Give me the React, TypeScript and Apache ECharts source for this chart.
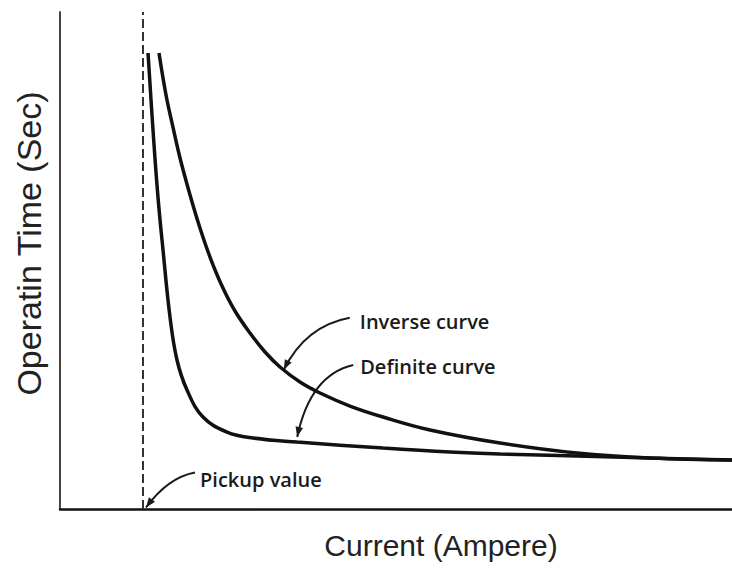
import React, { useEffect, useRef } from "react";
import * as echarts from "echarts";

// Definite-time curve (x: current, y: operating time)
const definiteX = [13.1, 13.84, 14.58, 15.33, 16.37, 17.41, 18.9, 21.28, 24.85, 28.72, 35.27, 48.07, 58.04, 65.48, 76.93, 87.8, 100];
const definiteY = [91.75, 76.26, 62.78, 52.11, 38.63, 29.98, 23.94, 18.51, 15.49, 14.29, 13.48, 12.27, 11.47, 11.07, 10.66, 10.26, 9.86];

// Inverse-time curve
const inverseX = [14.73, 15.33, 15.92, 16.67, 17.86, 19.35, 20.83, 22.32, 24.11, 26.04, 28.27, 30.51, 32.74, 35.71, 38.69, 43.15, 48.07, 55.06, 65.48, 76.93, 87.8, 100];
const inverseY = [91.75, 86.72, 82.29, 77.67, 70.62, 63.18, 56.54, 50.7, 44.87, 39.84, 35.41, 31.59, 28.57, 25.55, 23.34, 20.72, 18.51, 15.9, 13.28, 11.27, 10.26, 9.86];

// Pickup value (dashed vertical line)
const pickupX = 12.35;
const pickupY = [0, 100];

// Annotations: label and arrow tip (data coordinates)
const annotLabels = ["Inverse curve", "Definite curve", "Pickup value"];
const annotTipX = [33.3, 35.3, 12.8];
const annotTipY = [28.0, 14.5, 0.3];

// layout offsets (pixels, relative to tip): text, arrow tail, control point
const annotLayout = [
  { tx: 76, ty: -48, sx: 66, sy: -52, cx: 22, cy: -44 },
  { tx: 63, ty: -70, sx: 56, sy: -72, cx: 13, cy: -62 },
  { tx: 54, ty: -28, sx: 49, sy: -35, cx: 22, cy: -30 },
];

export default function App() {
  const ref = useRef<HTMLDivElement>(null);

  useEffect(() => {
    if (!ref.current) return;
    const chart = echarts.init(ref.current, null, { renderer: "svg" });
    const curveStyle = { color: "#111", width: 3.5 };
    chart.setOption({
      animation: false,
      backgroundColor: "#fff",
      grid: { left: 60, right: 0, top: 12, bottom: 61, containLabel: false, outerBoundsMode: "none" },
      xAxis: {
        type: "value",
        min: 0,
        max: 100,
        name: "Current (Ampere)",
        nameLocation: "middle",
        nameGap: 21,
        nameTextStyle: { fontFamily: "Liberation Sans", fontSize: 30, color: "#222", padding: [0, 0, 0, 90] },
        axisLine: { show: true, lineStyle: { color: "#111", width: 2.5 } },
        axisTick: { show: false },
        axisLabel: { show: false },
        splitLine: { show: false },
      },
      yAxis: {
        type: "value",
        min: 0,
        max: 100,
        name: "Operatin Time (Sec)",
        nameLocation: "middle",
        nameGap: 14,
        nameTextStyle: { fontFamily: "Liberation Sans", fontSize: 34, color: "#222", padding: [0, 0, 0, 34] },
        axisLine: { show: true, lineStyle: { color: "#444", width: 2 } },
        axisTick: { show: false },
        axisLabel: { show: false },
        splitLine: { show: false },
      },
      series: [
        {
          type: "line",
          name: "Definite curve",
          data: definiteX.map((x, i) => [x, definiteY[i]]),
          showSymbol: false,
          symbol: "none",
          smooth: 0.4,
          lineStyle: curveStyle,
        },
        {
          type: "line",
          name: "Inverse curve",
          data: inverseX.map((x, i) => [x, inverseY[i]]),
          showSymbol: false,
          symbol: "none",
          smooth: 0.4,
          lineStyle: curveStyle,
        },
        {
          type: "line",
          name: "Pickup",
          data: pickupY.map((y) => [pickupX, y]),
          showSymbol: false,
          symbol: "none",
          lineStyle: { color: "#333", width: 2, type: [9, 4] },
        },
      ],
    });

    const graphics: any[] = [];
    annotLabels.forEach((label, i) => {
      const tip = chart.convertToPixel({ gridIndex: 0 }, [annotTipX[i], annotTipY[i]]) as number[];
      const L = annotLayout[i];
      const x0 = tip[0], y0 = tip[1];
      const sx = x0 + L.sx, sy = y0 + L.sy;
      const cx = x0 + L.cx, cy = y0 + L.cy;
      graphics.push({
        type: "bezierCurve",
        shape: { x1: sx, y1: sy, cpx1: cx, cpy1: cy, x2: x0, y2: y0 },
        style: { stroke: "#1a1a1a", lineWidth: 2, fill: null },
        silent: true,
      });
      const dx = x0 - cx, dy = y0 - cy;
      const len = Math.sqrt(dx * dx + dy * dy);
      const ux = dx / len, uy = dy / len;
      const al = 10, aw = 3.8;
      const bx = x0 - ux * al, by = y0 - uy * al;
      graphics.push({
        type: "polygon",
        shape: {
          points: [
            [x0, y0],
            [bx - uy * aw, by + ux * aw],
            [bx + uy * aw, by - ux * aw],
          ],
        },
        style: { fill: "#1a1a1a" },
        silent: true,
      });
      graphics.push({
        type: "text",
        x: x0 + L.tx,
        y: y0 + L.ty,
        style: {
          text: label,
          fontFamily: "Open Sans",
          fontWeight: 600,
          fontSize: 20,
          fill: "#1a1a1a",
          verticalAlign: "middle",
          align: "left",
        },
        silent: true,
      });
    });
    chart.setOption({ graphic: graphics });

    return () => chart.dispose();
  }, []);

  return (
    <div
      ref={ref}
      style={{ position: "absolute", left: 0, top: 0, width: 732, height: 570 }}
    />
  );
}
